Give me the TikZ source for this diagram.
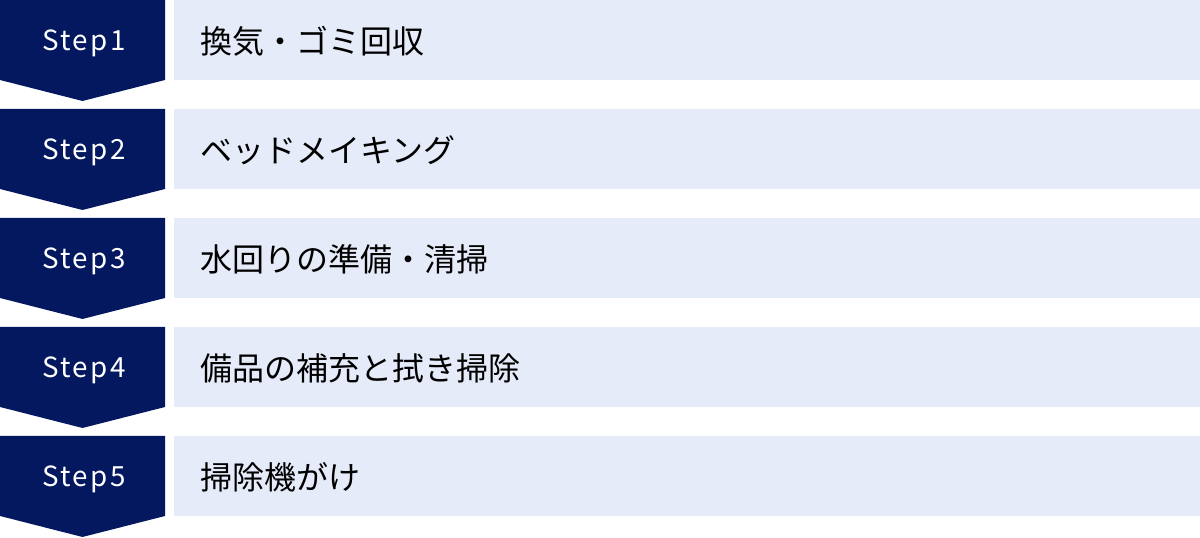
\documentclass[tikz,border=0pt]{standalone}
\usepackage{fontspec}
\setmainfont{Noto Sans CJK JP}
\newfontfamily\stepfont[LetterSpace=9]{Noto Sans CJK JP}
\usetikzlibrary{shapes}
\definecolor{stepnavy}{RGB}{4,24,96}
\definecolor{steplight}{RGB}{229,235,248}

\begin{document}
\begin{tikzpicture}[scale=0.1]
        \tikzstyle{every node}+=[inner sep=0pt]
        \tikzstyle{steplabel}=[text=white, font=\stepfont\fontsize{7.9}{9}\selectfont]
        \tikzstyle{tasklabel}=[anchor=west, text=black, font=\fontsize{9.1}{11}\selectfont]
        \useasboundingbox (0,0) rectangle (120,-53.8);
        % step 1
        \fill [stepnavy] (0,0) -- (16.5,0) -- (16.5,-8) -- (8.25,-10.1) -- (0,-8) -- cycle;
        \fill [steplight] (17.4,0) rectangle (120,-8);
        \node [steplabel] (s1) at (8.4,-4.3) {Step1};
        \node [tasklabel] (t1) at (20,-4.1) {換気・ゴミ回収};
        % step 2
        \fill [stepnavy] (0,-10.9) -- (16.5,-10.9) -- (16.5,-18.9) -- (8.25,-21) -- (0,-18.9) -- cycle;
        \fill [steplight] (17.4,-10.9) rectangle (120,-18.9);
        \node [steplabel] (s2) at (8.4,-15.2) {Step2};
        \node [tasklabel] (t2) at (20,-15) {ベッドメイキング};
        % step 3
        \fill [stepnavy] (0,-21.8) -- (16.5,-21.8) -- (16.5,-29.8) -- (8.25,-31.9) -- (0,-29.8) -- cycle;
        \fill [steplight] (17.4,-21.8) rectangle (120,-29.8);
        \node [steplabel] (s3) at (8.4,-26.1) {Step3};
        \node [tasklabel] (t3) at (20,-25.9) {水回りの準備・清掃};
        % step 4
        \fill [stepnavy] (0,-32.7) -- (16.5,-32.7) -- (16.5,-40.7) -- (8.25,-42.8) -- (0,-40.7) -- cycle;
        \fill [steplight] (17.4,-32.7) rectangle (120,-40.7);
        \node [steplabel] (s4) at (8.4,-37) {Step4};
        \node [tasklabel] (t4) at (20,-36.8) {備品の補充と拭き掃除};
        % step 5
        \fill [stepnavy] (0,-43.6) -- (16.5,-43.6) -- (16.5,-51.6) -- (8.25,-53.7) -- (0,-51.6) -- cycle;
        \fill [steplight] (17.4,-43.6) rectangle (120,-51.6);
        \node [steplabel] (s5) at (8.4,-47.9) {Step5};
        \node [tasklabel] (t5) at (20,-47.7) {掃除機がけ};
\end{tikzpicture}
\end{document}
